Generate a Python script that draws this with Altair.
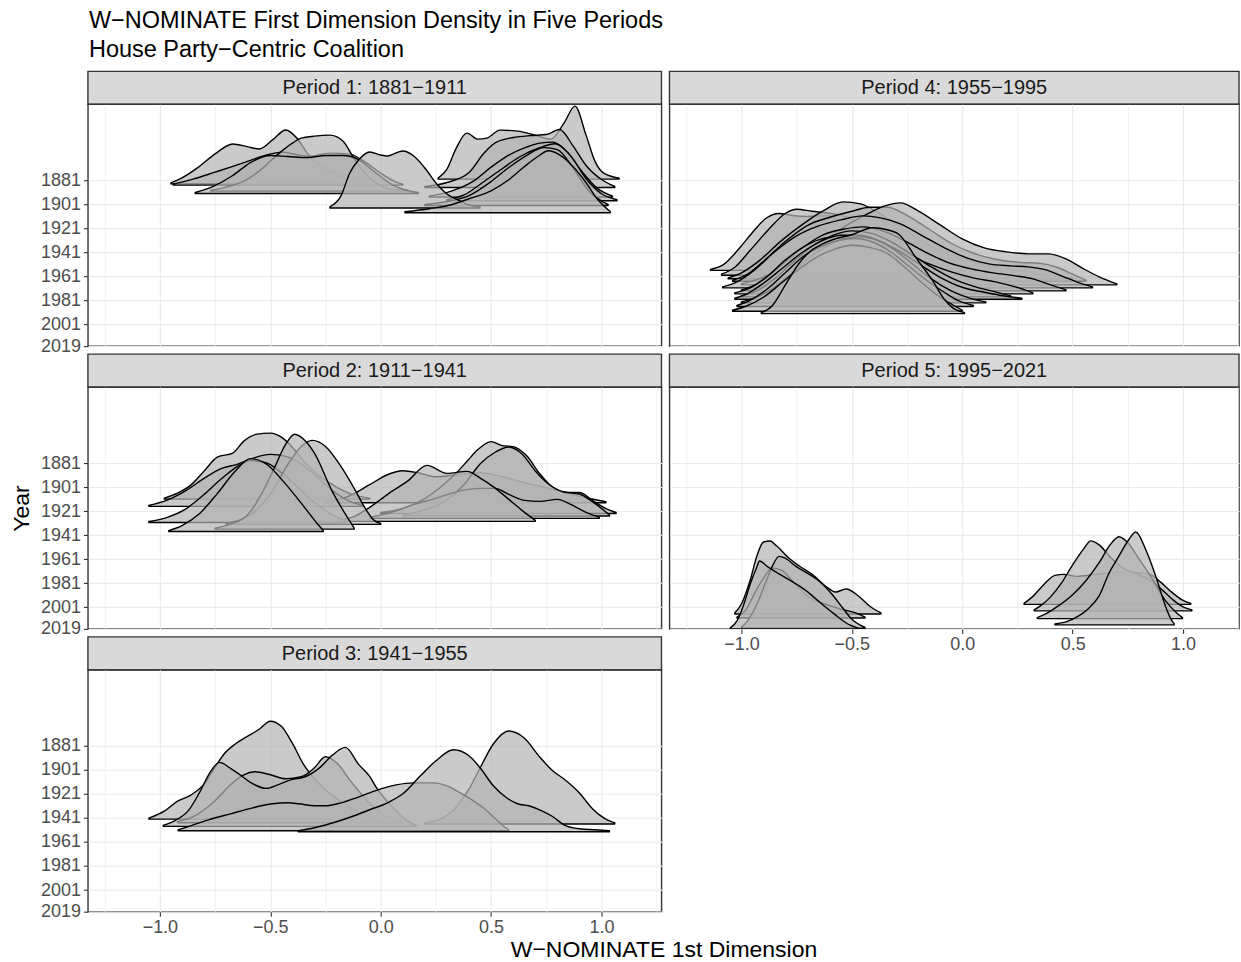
import altair as alt
import pandas as pd

FONT = "Liberation Sans"
TITLE = "W−NOMINATE First Dimension Density in Five Periods"
SUBTITLE = "House Party−Centric Coalition"
X_TITLE = "W−NOMINATE 1st Dimension"
Y_TITLE = "Year"
PERIOD_LABELS = {
    1: "Period 1: 1881−1911",
    2: "Period 2: 1911−1941",
    3: "Period 3: 1941−1955",
    4: "Period 4: 1955−1995",
    5: "Period 5: 1995−2021",
}
YEAR_TICKS = [1881, 1901, 1921, 1941, 1961, 1981, 2001, 2019]
X_GRID = [-1.25, -1.0, -0.75, -0.5, -0.25, 0.0, 0.25, 0.5, 0.75, 1.0, 1.25]

# Ridges: (baseline year, [(W-NOMINATE score, density height), ...])
P1 = [
    (1880, [(0.26, 1), (0.3, 10), (0.34, 30), (0.39, 46), (0.44, 40), (0.48, 41), (0.54, 49), (0.62, 48),
            (0.7, 44), (0.77, 40), (0.83, 56), (0.88, 73), (0.93, 44), (0.97, 18), (1.01, 6), (1.08, 1)]),
    (1884, [(-0.95, 1), (-0.9, 6), (-0.83, 16), (-0.75, 30), (-0.67, 40), (-0.6, 37), (-0.55, 35), (-0.49, 44),
            (-0.43, 54), (-0.38, 46), (-0.33, 30), (-0.25, 15), (-0.17, 7), (-0.1, 2), (-0.05, 1)]),
    (1885, [(-0.94, 1), (-0.85, 6), (-0.75, 13), (-0.68, 18), (-0.6, 24), (-0.55, 28), (-0.44, 33), (-0.37, 30),
            (-0.32, 29), (-0.23, 32), (-0.14, 31), (-0.07, 23), (0.0, 12), (0.06, 4), (0.1, 1)]),
    (1887, [(0.2, 1), (0.3, 5), (0.4, 15), (0.47, 35), (0.52, 45), (0.6, 50), (0.68, 52), (0.75, 53),
            (0.81, 58), (0.87, 42), (0.93, 22), (1.0, 8), (1.06, 1)]),
    (1890, [(-0.77, 1), (-0.7, 4), (-0.62, 10), (-0.55, 20), (-0.47, 36), (-0.4, 48), (-0.36, 53), (-0.3, 55),
            (-0.23, 56), (-0.17, 50), (-0.13, 36), (-0.08, 20), (-0.02, 8), (0.05, 2), (0.12, 1)]),
    (1892, [(-0.84, 1), (-0.76, 7), (-0.67, 18), (-0.59, 31), (-0.5, 38), (-0.42, 37), (-0.33, 36), (-0.25, 38),
            (-0.17, 38), (-0.1, 34), (-0.03, 22), (0.05, 9), (0.12, 3), (0.17, 1)]),
    (1895, [(0.22, 1), (0.32, 6), (0.42, 16), (0.5, 30), (0.58, 42), (0.66, 50), (0.72, 54), (0.78, 55),
            (0.84, 46), (0.91, 26), (0.98, 9), (1.05, 1)]),
    (1898, [(0.3, 1), (0.38, 6), (0.46, 18), (0.55, 32), (0.63, 44), (0.72, 53), (0.79, 57), (0.86, 45),
            (0.93, 22), (1.0, 7), (1.07, 1)]),
    (1902, [(0.2, 1), (0.3, 4), (0.4, 10), (0.5, 24), (0.58, 38), (0.66, 50), (0.74, 58), (0.8, 56),
            (0.87, 38), (0.94, 15), (1.03, 1)]),
    (1904, [(-0.23, 1), (-0.18, 12), (-0.14, 35), (-0.1, 48), (-0.05, 56), (0.0, 53), (0.03, 52), (0.1, 57),
            (0.15, 52), (0.2, 40), (0.25, 25), (0.3, 14), (0.36, 7), (0.4, 3), (0.45, 1)]),
    (1908, [(0.11, 1), (0.22, 4), (0.32, 8), (0.4, 14), (0.5, 22), (0.58, 33), (0.65, 46), (0.71, 56),
            (0.76, 62), (0.81, 58), (0.88, 44), (0.93, 30), (0.98, 14), (1.04, 1)]),
]

P2 = [
    (1911, [(-0.98, 1), (-0.92, 6), (-0.86, 14), (-0.8, 28), (-0.74, 42), (-0.67, 46), (-0.62, 58), (-0.56, 65),
            (-0.5, 66), (-0.45, 62), (-0.4, 52), (-0.34, 36), (-0.27, 22), (-0.2, 12), (-0.12, 4), (-0.05, 1)]),
    (1914, [(-0.25, 1), (-0.15, 6), (-0.05, 18), (0.03, 28), (0.1, 32), (0.17, 30), (0.25, 26), (0.35, 28),
            (0.45, 30), (0.55, 26), (0.65, 20), (0.75, 15), (0.85, 9), (0.95, 4), (1.02, 1)]),
    (1917, [(-1.05, 1), (-0.97, 6), (-0.88, 16), (-0.8, 28), (-0.72, 38), (-0.65, 42), (-0.58, 48), (-0.5, 52),
            (-0.43, 50), (-0.37, 44), (-0.3, 32), (-0.22, 16), (-0.14, 5), (-0.08, 1)]),
    (1923, [(0.0, 1), (0.1, 5), (0.2, 15), (0.28, 28), (0.34, 40), (0.39, 52), (0.44, 64), (0.5, 72),
            (0.55, 68), (0.6, 67), (0.66, 58), (0.72, 40), (0.78, 26), (0.85, 21), (0.9, 21), (0.96, 13),
            (1.02, 5), (1.066, 1)]),
    (1925, [(0.1, 1), (0.2, 6), (0.3, 16), (0.38, 32), (0.45, 52), (0.52, 64), (0.58, 69), (0.64, 62),
            (0.7, 45), (0.76, 32), (0.83, 24), (0.9, 22), (0.96, 14), (1.036, 1)]),
    (1927, [(-0.05, 1), (0.05, 6), (0.15, 14), (0.25, 20), (0.35, 27), (0.45, 30), (0.52, 30), (0.58, 24),
            (0.65, 18), (0.72, 17), (0.8, 19), (0.86, 14), (0.93, 6), (0.99, 1)]),
    (1929.5, [(-0.2, 1), (-0.12, 5), (-0.05, 14), (0.05, 30), (0.12, 40), (0.21, 56), (0.3, 48), (0.39, 50),
              (0.46, 42), (0.52, 33), (0.58, 22), (0.64, 11), (0.7, 1)]),
    (1930.5, [(-1.05, 1), (-0.97, 5), (-0.88, 14), (-0.8, 28), (-0.72, 44), (-0.65, 56), (-0.59, 62),
              (-0.52, 60), (-0.45, 50), (-0.38, 36), (-0.3, 20), (-0.22, 8), (-0.15, 1)]),
    (1932, [(-0.7, 1), (-0.6, 8), (-0.5, 30), (-0.42, 60), (-0.36, 78), (-0.31, 84), (-0.25, 78), (-0.18, 58),
            (-0.12, 36), (-0.07, 16), (-0.03, 4), (0.0, 1)]),
    (1936, [(-0.75, 1), (-0.68, 5), (-0.6, 15), (-0.54, 35), (-0.48, 62), (-0.43, 85), (-0.39, 95), (-0.34, 88),
            (-0.3, 76), (-0.22, 38), (-0.14, 8), (-0.12, 1)]),
    (1938, [(-0.96, 1), (-0.9, 6), (-0.82, 18), (-0.74, 38), (-0.66, 60), (-0.59, 73), (-0.52, 68), (-0.44, 50),
            (-0.38, 34), (-0.33, 20), (-0.28, 6), (-0.26, 1)]),
]

P3 = [
    (1942, [(-1.05, 1), (-0.98, 8), (-0.92, 18), (-0.86, 24), (-0.8, 35), (-0.75, 52), (-0.71, 65), (-0.66, 75),
            (-0.61, 82), (-0.55, 90), (-0.5, 98), (-0.45, 93), (-0.4, 76), (-0.35, 55), (-0.29, 38), (-0.22, 24),
            (-0.15, 13), (-0.07, 5), (0.0, 1)]),
    (1945, [(-0.92, 1), (-0.85, 6), (-0.76, 20), (-0.68, 38), (-0.62, 48), (-0.57, 51), (-0.5, 48), (-0.43, 44),
            (-0.36, 46), (-0.3, 55), (-0.25, 66), (-0.2, 60), (-0.13, 40), (-0.06, 22), (0.0, 10), (0.06, 3),
            (0.1, 1)]),
    (1946, [(0.2, 1), (0.26, 4), (0.33, 14), (0.4, 35), (0.45, 56), (0.51, 80), (0.58, 93), (0.65, 86),
            (0.72, 67), (0.78, 53), (0.83, 45), (0.9, 31), (0.96, 15), (1.01, 6), (1.06, 1)]),
    (1948, [(-0.985, 1), (-0.93, 6), (-0.87, 16), (-0.82, 34), (-0.77, 55), (-0.73, 64), (-0.68, 58),
            (-0.64, 52), (-0.59, 44), (-0.52, 38), (-0.46, 42), (-0.4, 47), (-0.35, 49), (-0.28, 58),
            (-0.22, 71), (-0.16, 79), (-0.1, 62), (-0.05, 50), (-0.02, 39), (0.05, 20), (0.11, 7), (0.16, 1)]),
    (1951.7, [(-0.917, 1), (-0.86, 5), (-0.78, 11), (-0.68, 17), (-0.58, 23), (-0.49, 27), (-0.42, 28),
              (-0.37, 27), (-0.3, 25), (-0.25, 25), (-0.18, 28), (-0.11, 33), (-0.05, 38), (0.0, 42),
              (0.07, 46), (0.15, 48), (0.24, 48), (0.3, 45), (0.36, 38), (0.42, 30), (0.47, 22), (0.52, 12),
              (0.56, 4), (0.58, 1)]),
    (1952.5, [(-0.374, 1), (-0.3, 4), (-0.2, 10), (-0.12, 16), (-0.05, 22), (0.04, 30), (0.1, 38), (0.18, 56),
              (0.25, 71), (0.33, 82), (0.4, 76), (0.45, 64), (0.51, 46), (0.57, 34), (0.62, 28), (0.67, 26),
              (0.72, 22), (0.78, 15), (0.83, 7), (0.9, 3), (0.97, 2), (1.036, 1)]),
]

P4 = [
    (1956, [(-1.14, 1), (-1.08, 6), (-1.01, 22), (-0.95, 38), (-0.89, 52), (-0.83, 57), (-0.77, 55), (-0.7, 54),
            (-0.62, 55), (-0.54, 50), (-0.45, 40), (-0.35, 28), (-0.25, 18), (-0.15, 10), (-0.05, 5), (0.05, 2),
            (0.1, 1)]),
    (1960, [(-1.09, 1), (-1.03, 8), (-0.96, 25), (-0.88, 45), (-0.8, 62), (-0.75, 66), (-0.68, 64), (-0.6, 62),
            (-0.52, 58), (-0.43, 48), (-0.33, 36), (-0.22, 24), (-0.1, 14), (0.0, 8), (0.1, 4), (0.2, 1)]),
    (1963, [(-1.06, 1), (-1.0, 6), (-0.92, 18), (-0.82, 38), (-0.72, 55), (-0.63, 68), (-0.54, 77), (-0.46, 75),
            (-0.38, 66), (-0.3, 55), (-0.2, 40), (-0.1, 28), (0.0, 20), (0.1, 14), (0.2, 10), (0.3, 7), (0.4, 3),
            (0.5, 1)]),
    (1965, [(-1.04, 1), (-0.98, 6), (-0.9, 20), (-0.8, 40), (-0.7, 56), (-0.6, 64), (-0.5, 70), (-0.42, 74),
            (-0.34, 74), (-0.25, 66), (-0.15, 52), (-0.05, 38), (0.05, 28), (0.15, 22), (0.25, 19), (0.35, 18),
            (0.43, 14), (0.5, 7), (0.56, 1)]),
    (1968, [(-1.0, 1), (-0.92, 6), (-0.82, 16), (-0.72, 30), (-0.62, 45), (-0.52, 60), (-0.42, 72), (-0.35, 79),
            (-0.28, 82), (-0.2, 74), (-0.1, 60), (0.0, 46), (0.1, 37), (0.2, 33), (0.3, 31), (0.39, 31),
            (0.47, 26), (0.55, 16), (0.62, 8), (0.7, 1)]),
    (1970.5, [(-1.085, 1), (-1.02, 6), (-0.94, 18), (-0.85, 36), (-0.75, 52), (-0.65, 62), (-0.55, 68),
              (-0.45, 72), (-0.37, 70), (-0.28, 64), (-0.18, 52), (-0.08, 40), (0.02, 30), (0.12, 24),
              (0.22, 22), (0.3, 21), (0.38, 18), (0.46, 11), (0.53, 5), (0.59, 1)]),
    (1973, [(-1.0, 1), (-0.92, 8), (-0.83, 24), (-0.73, 42), (-0.63, 56), (-0.53, 62), (-0.45, 64), (-0.36, 60),
            (-0.26, 50), (-0.16, 38), (-0.06, 28), (0.04, 22), (0.14, 18), (0.24, 15), (0.32, 12), (0.4, 6),
            (0.47, 1)]),
    (1975.5, [(-1.03, 1), (-0.96, 6), (-0.88, 18), (-0.8, 34), (-0.71, 48), (-0.62, 56), (-0.53, 58),
              (-0.44, 56), (-0.35, 50), (-0.25, 40), (-0.15, 30), (-0.05, 22), (0.05, 16), (0.15, 12),
              (0.24, 7), (0.32, 1)]),
    (1978, [(-1.0, 1), (-0.93, 6), (-0.85, 18), (-0.76, 36), (-0.67, 52), (-0.58, 62), (-0.5, 66), (-0.42, 64),
            (-0.33, 56), (-0.24, 44), (-0.14, 30), (-0.04, 18), (0.06, 10), (0.15, 5), (0.22, 1)]),
    (1980, [(-1.03, 1), (-0.97, 6), (-0.9, 16), (-0.82, 30), (-0.73, 46), (-0.64, 58), (-0.55, 64), (-0.47, 64),
            (-0.39, 60), (-0.3, 50), (-0.2, 36), (-0.1, 22), (0.0, 12), (0.1, 7), (0.2, 3), (0.27, 1)]),
    (1983, [(-1.0, 1), (-0.94, 5), (-0.86, 14), (-0.78, 28), (-0.7, 44), (-0.62, 56), (-0.54, 64), (-0.46, 66),
            (-0.38, 62), (-0.3, 52), (-0.22, 38), (-0.14, 24), (-0.05, 12), (0.03, 5), (0.107, 1)]),
    (1986, [(-1.02, 1), (-0.96, 6), (-0.88, 18), (-0.8, 34), (-0.72, 50), (-0.64, 60), (-0.56, 66), (-0.48, 68),
            (-0.4, 64), (-0.32, 54), (-0.24, 40), (-0.16, 26), (-0.08, 14), (-0.02, 6), (0.05, 1)]),
    (1990, [(-1.04, 1), (-0.98, 5), (-0.9, 14), (-0.82, 28), (-0.74, 42), (-0.66, 54), (-0.58, 62), (-0.5, 66),
            (-0.42, 64), (-0.34, 58), (-0.26, 44), (-0.18, 28), (-0.1, 14), (-0.04, 6), (0.0, 1)]),
    (1992, [(-0.91, 1), (-0.86, 8), (-0.8, 29), (-0.74, 50), (-0.69, 62), (-0.63, 70), (-0.587, 74), (-0.5, 79),
            (-0.405, 86), (-0.34, 84), (-0.285, 79), (-0.21, 56), (-0.134, 33), (-0.08, 14), (-0.044, 6),
            (0.01, 1)]),
]

P5 = [
    (1998.6, [(0.28, 1), (0.32, 8), (0.37, 20), (0.42, 29), (0.46, 30), (0.52, 28), (0.6, 30), (0.7, 32),
              (0.78, 32), (0.85, 30), (0.9, 22), (0.95, 12), (1.0, 4), (1.035, 1)]),
    (2004, [(0.326, 1), (0.36, 6), (0.4, 14), (0.45, 28), (0.5, 46), (0.55, 62), (0.582, 70), (0.62, 66),
            (0.67, 54), (0.72, 44), (0.78, 38), (0.84, 32), (0.9, 22), (0.96, 10), (1.0, 4), (1.04, 1)]),
    (2006.6, [(-1.03, 1), (-1.0, 10), (-0.96, 34), (-0.93, 58), (-0.9, 72), (-0.87, 73), (-0.84, 68),
              (-0.78, 55), (-0.738, 48), (-0.67, 38), (-0.62, 28), (-0.573, 22), (-0.526, 25), (-0.47, 18),
              (-0.42, 8), (-0.368, 1)]),
    (2010, [(-1.02, 1), (-0.98, 8), (-0.94, 25), (-0.9, 40), (-0.86, 50), (-0.82, 48), (-0.76, 35), (-0.7, 22),
            (-0.62, 14), (-0.55, 9), (-0.48, 5), (-0.44, 1)]),
    (2010.5, [(0.34, 1), (0.38, 5), (0.43, 12), (0.5, 24), (0.56, 38), (0.62, 56), (0.67, 74), (0.71, 82),
              (0.75, 76), (0.8, 60), (0.86, 40), (0.92, 18), (0.97, 6), (0.997, 1)]),
    (2015.7, [(0.42, 1), (0.47, 3), (0.52, 8), (0.57, 16), (0.62, 29), (0.665, 52), (0.71, 69), (0.75, 84),
              (0.786, 93), (0.83, 76), (0.876, 49), (0.92, 19), (0.95, 4), (0.96, 1)]),
    (2018.5, [(-1.0, 1), (-0.97, 8), (-0.93, 24), (-0.89, 46), (-0.86, 62), (-0.83, 72), (-0.8, 70),
              (-0.753, 62), (-0.7, 55), (-0.647, 47), (-0.59, 34), (-0.54, 20), (-0.5, 9), (-0.46, 3),
              (-0.44, 1)]),
    (2019, [(-1.05, 1), (-1.02, 8), (-0.99, 24), (-0.96, 45), (-0.93, 62), (-0.918, 68), (-0.88, 62),
            (-0.83, 55), (-0.768, 47), (-0.7, 37), (-0.647, 27), (-0.58, 15), (-0.51, 4), (-0.475, 1)]),
]

PERIODS = {1: P1, 2: P2, 3: P3, 4: P4, 5: P5}

rows = []
for period, ridges in PERIODS.items():
    for i, (year, pts) in enumerate(sorted(ridges, key=lambda r: r[0])):
        rid = f"p{period}_r{i:02d}"
        for x, d in pts:
            rows.append({"period": period, "ridge": rid, "year": year, "x": x, "density": d})
df = pd.DataFrame(rows)

# layout
W1, W2 = 574, 570
PLOT_H = 242
STRIP_H = 33
GAP = 8
HEADER_H = 70
Y_MAX = 2019
PX_PER_YEAR = 1.2025
Y_MIN = Y_MAX - PLOT_H / PX_PER_YEAR
XDOM1 = [-1.3258, 1.2715]
XDOM2 = [-1.3258, 1.2534]

MAJOR = "abs(datum.value * 2 - round(datum.value * 2)) < 0.001"
GRID_COLOR = "#EBEBEB"
BORDER = "#333333"
NOFRAME = alt.ViewBackground(stroke="transparent", fill="transparent")


def x_axis(show, title=False):
    kw = dict(
        values=X_GRID, grid=True, gridColor=GRID_COLOR,
        gridWidth={"condition": {"test": MAJOR, "value": 1.2}, "value": 0.7},
        domain=False, labelFlush=False, labelOverlap=False,
    )
    if show:
        kw.update(
            labels=True, ticks=True,
            labelExpr=f"{MAJOR} ? format(datum.value, '.1f') : ''",
            tickOpacity={"condition": {"test": MAJOR, "value": 1}, "value": 0},
            tickColor=BORDER, tickSize=4.5, tickWidth=1.1,
            labelFont=FONT, labelFontSize=18, labelColor="#4D4D4D", labelPadding=2,
        )
    else:
        kw.update(labels=False, ticks=False)
    if title:
        kw.update(title=X_TITLE, titleFont=FONT, titleFontSize=23, titleFontWeight="normal",
                  titleColor="black", titleX=576, titleY=45, titleBaseline="alphabetic",
                  titleAlign="center", titleAnchor="middle")
    else:
        kw.update(title=None)
    return alt.Axis(**kw)


def y_axis(show, title=False):
    kw = dict(
        values=YEAR_TICKS, grid=True, gridColor=GRID_COLOR, gridWidth=1.2,
        domain=False, labelFlush=False, labelOverlap=False, format="d",
    )
    if show:
        kw.update(labels=True, ticks=True, tickColor=BORDER, tickSize=4.5, tickWidth=1.1,
                  labelFont=FONT, labelFontSize=18, labelColor="#4D4D4D", labelPadding=3)
    else:
        kw.update(labels=False, ticks=False)
    if title:
        kw.update(title=Y_TITLE, titleFont=FONT, titleFontSize=23, titleFontWeight="normal",
                  titleColor="black", titlePadding=7)
    else:
        kw.update(title=None)
    return alt.Axis(**kw)


def ridges(period, width, xdom, show_x, show_y, xtitle=False, ytitle=False):
    data = df[df["period"] == period]
    return alt.Chart(data).transform_calculate(
        top=f"datum.year - datum.density / {PX_PER_YEAR}"
    ).mark_area(
        interpolate="monotone", fill="#B3B3B3", fillOpacity=0.7,
        stroke="black", strokeWidth=1.4, strokeJoin="round", clip=True,
    ).encode(
        x=alt.X("x:Q", scale=alt.Scale(domain=xdom, nice=False, zero=False), axis=x_axis(show_x, xtitle)),
        y=alt.Y("top:Q", scale=alt.Scale(domain=[Y_MIN, Y_MAX], reverse=True, nice=False, zero=False),
                axis=y_axis(show_y, ytitle)),
        y2="year:Q",
        detail="ridge:N",
    ).properties(width=width, height=PLOT_H)


def strip(period, width, gap):
    base = alt.Chart(pd.DataFrame({"label": [PERIOD_LABELS[period]]}))
    box = base.mark_rect(fill="#D9D9D9", stroke=BORDER, strokeWidth=1.4).encode(
        x=alt.value(0), x2=alt.value(width), y=alt.value(gap), y2=alt.value(gap + STRIP_H)
    )
    txt = base.mark_text(font=FONT, fontSize=20, color="#1A1A1A", baseline="middle", align="center").encode(
        x=alt.value(width / 2), y=alt.value(gap + STRIP_H / 2 + 0.5), text="label:N"
    )
    return alt.layer(box, txt).properties(width=width, height=gap + STRIP_H, view=NOFRAME)


def blank(width, height):
    return alt.Chart(pd.DataFrame({"a": [0]})).mark_point(opacity=0).encode(
        x=alt.value(width / 2), y=alt.value(height / 2)
    ).properties(width=width, height=height, view=NOFRAME)


header_base = alt.Chart(pd.DataFrame({"t": [TITLE], "s": [SUBTITLE]}))
header = alt.layer(
    header_base.mark_text(font=FONT, fontSize=23.5, color="black", align="left", baseline="alphabetic").encode(
        x=alt.value(1), y=alt.value(27), text="t:N"),
    header_base.mark_text(font=FONT, fontSize=23.5, color="black", align="left", baseline="alphabetic").encode(
        x=alt.value(1), y=alt.value(56), text="s:N"),
).properties(width=W1, height=HEADER_H, view=NOFRAME)

cells = [
    header, blank(W2, HEADER_H),
    strip(1, W1, 0), strip(4, W2, 0),
    ridges(1, W1, XDOM1, False, True), ridges(4, W2, XDOM2, False, False),
    strip(2, W1, GAP), strip(5, W2, GAP),
    ridges(2, W1, XDOM1, False, True, ytitle=True), ridges(5, W2, XDOM2, True, False),
    strip(3, W1, GAP), blank(W2, GAP + STRIP_H),
    ridges(3, W1, XDOM1, True, True, xtitle=True), blank(W2, PLOT_H),
]

chart = alt.concat(*cells, columns=2, spacing={"row": 0, "column": GAP}, bounds="flush").properties(
    padding={"left": 9, "top": 0, "right": 0, "bottom": 0}
).configure(background="white").configure_view(stroke=BORDER, strokeWidth=1.4)

chart.save("out.html", embed_options={"renderer": "svg", "actions": False})
